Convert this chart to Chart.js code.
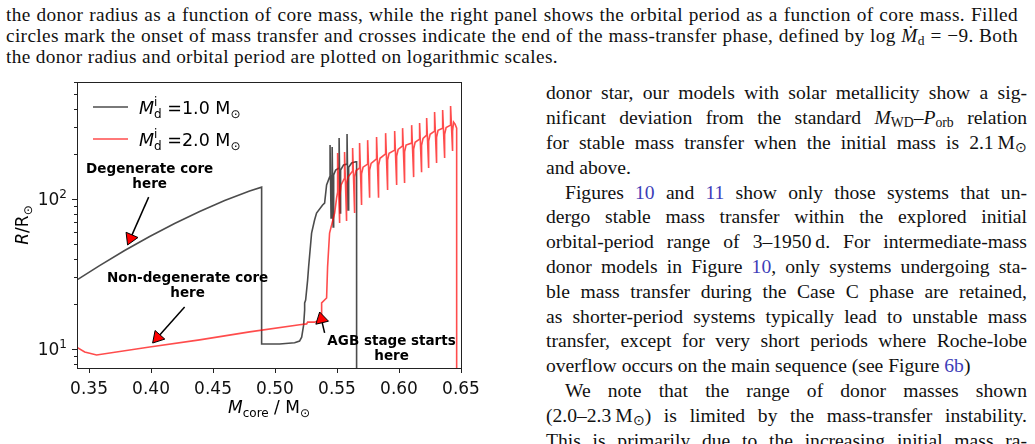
<!DOCTYPE html>
<html>
<head>
<meta charset="utf-8">
<script src="https://cdn.jsdelivr.net/npm/chart.js@4.4.1/dist/chart.umd.min.js"></script>
<style>
html, body { margin: 0; padding: 0; background: #fff; }
body { width: 1035px; height: 444px; overflow: hidden; position: relative; font-family: "Liberation Serif", serif; color: #111; }
.ln { position: absolute; white-space: nowrap; text-align: justify; text-align-last: justify; }
.ln.last { text-align: left; text-align-last: left; }
.cap { font-size: 19.3px; line-height: 19px; letter-spacing: 0.35px; }
.txt { font-size: 19.6px; line-height: 20px; letter-spacing: 0; }
sub { font-size: 70%; vertical-align: -0.25em; line-height: 0; }
.lk { color: #3d3db8; }
#wrap { position: absolute; left: 0; top: 70px; width: 500px; height: 374px; }
</style>
</head>
<body>
<div id="text"></div>
<div id="wrap"><canvas id="chart"></canvas></div>
<script>
// axis ticks
var xTicks = [0.35, 0.40, 0.45, 0.50, 0.55, 0.60, 0.65];
var yTicks = [8, 9, 10, 20, 30, 40, 50, 60, 70, 80, 90, 100, 200, 300, 400, 500, 600];
var yTickLabels = { 10: ['10', '1'], 100: ['10', '2'] };

// M_d^i = 1.0 Msun track (core mass, radius)
var coreMass1 = [0.3400, 0.3585, 0.3787, 0.3989, 0.4190, 0.4392, 0.4594, 0.4795, 0.4892, 0.4892,
  0.5037, 0.5158, 0.5198, 0.5215, 0.5231, 0.5239, 0.5239, 0.5247, 0.5263, 0.5271,
  0.5295, 0.5319, 0.5335, 0.5384, 0.5400, 0.5416, 0.5440,
  0.5444, 0.5444, 0.5452, 0.5456,
  0.5461, 0.5461, 0.5469, 0.5473,
  0.5489,
  0.5517, 0.5517, 0.5525, 0.5529, 0.5553,
  0.5581, 0.5581, 0.5589, 0.5594, 0.5618, 0.5650, 0.5658, 0.5658];
var radius1 = [28.8, 36.0, 45.4, 56.2, 68.7, 82.5, 97.7, 113, 120, 10.8,
  10.8, 11.0, 11.3, 12.0, 14.5, 18.2, 20.3, 21.2, 28.8, 35.2,
  59.3, 72.4, 80.7, 91.2, 94.0, 124, 140,
  142, 229, 74.7, 140,
  145, 222, 65.1, 145,
  156,
  161, 255, 80.7, 156, 169,
  171, 271, 84.5, 163, 174, 177, 177, 3];

// M_d^i = 2.0 Msun track
var coreMass2 = [0.3400, 0.3465, 0.3561, 0.3989, 0.4392, 0.4795, 0.5198, 0.5255, 0.5263, 0.5319,
  0.5360, 0.5376, 0.5376, 0.5416, 0.5424, 0.5440, 0.5481, 0.5497,
  0.5505, 0.5505, 0.5521, 0.5521, 0.5533,
  0.5561, 0.5561, 0.5577, 0.5577, 0.5589,
  0.5626, 0.5626, 0.5642, 0.5642, 0.5654,
  0.5682, 0.5682, 0.5698, 0.5698, 0.5710,
  0.5747, 0.5747, 0.5763, 0.5763, 0.5775,
  0.5819, 0.5819, 0.5835, 0.5835, 0.5847,
  0.5892, 0.5892, 0.5908, 0.5908, 0.5920,
  0.5965, 0.5965, 0.5981, 0.5981, 0.5993,
  0.6029, 0.6029, 0.6045, 0.6045, 0.6057,
  0.6102, 0.6102, 0.6118, 0.6118, 0.6130,
  0.6166, 0.6166, 0.6182, 0.6182, 0.6194,
  0.6223, 0.6223, 0.6239, 0.6239, 0.6251,
  0.6287, 0.6287, 0.6303, 0.6303, 0.6315,
  0.6352, 0.6352, 0.6368, 0.6368, 0.6380,
  0.6416, 0.6416, 0.6432, 0.6432,
  0.6440, 0.6452, 0.6465, 0.6465];
var radius2 = [10.3, 9.55, 9.12, 10.3, 11.5, 13.0, 14.5, 14.7, 15.1, 15.1,
  15.6, 16.1, 20.3, 21.9, 35.2, 59.3, 80.7, 102,
  111, 203, 69.2, 101, 124,
  138, 206, 71.3, 126, 140,
  154, 219, 80.7, 140, 155,
  161, 236, 91.2, 147, 163,
  171, 247, 102, 156, 173,
  185, 259, 102, 168, 187,
  200, 275, 115, 182, 202,
  212, 284, 124, 193, 214,
  226, 297, 128, 206, 229,
  236, 311, 140, 215, 239,
  251, 321, 151, 228, 254,
  267, 347, 161, 243, 270,
  284, 380, 174, 258, 287,
  297, 392, 188, 270, 300,
  311, 417, 209, 283,
  326, 316, 297, 3];

function pts(xs, ys) {
  return xs.map(function (x, i) { return { x: x, y: ys[i] }; });
}

// page text
var capLines = [
  { b: 21, h: 'the donor radius as a function of core mass, while the right panel shows the orbital period as a function of core mass. Filled' },
  { b: 42, h: 'circles mark the onset of mass transfer and crosses indicate the end of the mass-transfer phase, defined by log <i>\u1e40</i><sub>d</sub> = \u22129. Both' },
  { b: 63, h: 'the donor radius and orbital period are plotted on logarithmic scales.', last: true }
];
var bodyLines = [
  { h: 'donor star, our models with solar metallicity show a sig-' },
  { h: 'nificant deviation from the standard <i>M</i><sub>WD</sub>\u2013<i>P</i><sub>orb</sub> relation' },
  { h: 'for stable mass transfer when the initial mass is 2.1&thinsp;M<sub>\u2299</sub>' },
  { h: 'and above.', last: true },
  { h: 'Figures <span class="lk">10</span> and <span class="lk">11</span> show only those systems that un-', ind: true },
  { h: 'dergo stable mass transfer within the explored initial' },
  { h: 'orbital-period range of 3\u20131950&thinsp;d. For intermediate-mass' },
  { h: 'donor models in Figure <span class="lk">10</span>, only systems undergoing sta-' },
  { h: 'ble mass transfer during the Case C phase are retained,' },
  { h: 'as shorter-period systems typically lead to unstable mass' },
  { h: 'transfer, except for very short periods where Roche-lobe' },
  { h: 'overflow occurs on the main sequence (see Figure <span class="lk">6b</span>)', last: true },
  { h: 'We note that the range of donor masses shown', ind: true },
  { h: '(2.0\u20132.3&thinsp;M<sub>\u2299</sub>) is limited by the mass-transfer instability.' },
  { h: 'This is primarily due to the increasing initial mass ra-' }
];

var textBox = document.getElementById('text');
function addLine(html, cls, left, width, baseline, fs, lh, last) {
  var d = document.createElement('div');
  d.className = 'ln ' + cls + (last ? ' last' : '');
  d.style.left = left + 'px';
  d.style.width = width + 'px';
  d.style.top = (baseline - (lh - 1.107 * fs) / 2 - 0.891 * fs) + 'px';
  d.innerHTML = html;
  textBox.appendChild(d);
}
capLines.forEach(function (l) { addLine(l.h, 'cap', 6, 1012, l.b, 19.3, 19, l.last); });
bodyLines.forEach(function (l, i) {
  var ind = l.ind ? 19 : 0;
  addLine(l.h, 'txt', 546 + ind, 481 - ind, 100 + i * 24.8, 19.6, 20, l.last);
});

// mixed-style text on the canvas
function runs(ctx, parts, x, y, align) {
  var w = 0;
  parts.forEach(function (p) {
    ctx.font = p.f;
    p.w = ctx.measureText(p.t).width;
    if (p.adv !== false) w += p.w;
  });
  var cx = x;
  if (align === 'center') cx = x - w / 2;
  if (align === 'right') cx = x - w;
  parts.forEach(function (p) {
    ctx.font = p.f;
    ctx.fillText(p.t, cx, y + (p.dy || 0));
    if (p.adv !== false) cx += p.w;
  });
}

function arrow(ctx, x0, y0, x1, y1) {
  var a = Math.atan2(y1 - y0, x1 - x0), hl = 11, hw = 6.5;
  var bx = x1 - hl * Math.cos(a), by = y1 - hl * Math.sin(a);
  ctx.strokeStyle = '#000';
  ctx.lineWidth = 1.5;
  ctx.beginPath(); ctx.moveTo(x0, y0); ctx.lineTo(bx, by); ctx.stroke();
  ctx.beginPath();
  ctx.moveTo(x1, y1);
  ctx.lineTo(bx + hw * Math.sin(a), by - hw * Math.cos(a));
  ctx.lineTo(bx - hw * Math.sin(a), by + hw * Math.cos(a));
  ctx.closePath();
  ctx.fillStyle = '#ff0000';
  ctx.fill();
  ctx.lineWidth = 1;
  ctx.stroke();
}

var sans = 'DejaVu Sans';
var annotations = [
  { lines: ['Degenerate core', 'here'], tx: 0.3989, ty: 158, from: [0.3981, 103], to: [0.3811, 49.4] },
  { lines: ['Non-degenerate core', 'here'], tx: 0.4295, ty: 29.3, from: [0.4271, 19.05], to: [0.4013, 10.96] },
  { lines: ['AGB stage starts', 'here'], tx: 0.5940, ty: 11.3, from: [0.5400, 12.8], to: [0.5360, 17.65] }
];

var deco = {
  id: 'deco',
  afterDraw: function (chart) {
    var ctx = chart.ctx, a = chart.chartArea, xs = chart.scales.x, ys = chart.scales.y;
    ctx.save();
    ctx.strokeStyle = '#222';
    ctx.lineWidth = 1;
    ctx.beginPath();
    xTicks.forEach(function (v) {
      var px = Math.round(xs.getPixelForValue(v)) + 0.5;
      ctx.moveTo(px, a.bottom); ctx.lineTo(px, a.bottom + 5);
    });
    yTicks.forEach(function (v) {
      var py = Math.round(ys.getPixelForValue(v)) + 0.5;
      var len = yTickLabels[v] ? 5 : 3;
      ctx.moveTo(a.left, py); ctx.lineTo(a.left - len, py);
    });
    ctx.stroke();
    ctx.strokeRect(Math.round(a.left) + 0.5, Math.round(a.top) + 0.5, Math.round(a.right - a.left), Math.round(a.bottom - a.top));

    ctx.fillStyle = '#111';
    ctx.textBaseline = 'alphabetic';
    ctx.textAlign = 'left';

    // y tick labels with exponents
    Object.keys(yTickLabels).forEach(function (k) {
      var lab = yTickLabels[k], py = ys.getPixelForValue(Number(k));
      runs(ctx, [
        { t: lab[0], f: '17px ' + sans },
        { t: lab[1], f: '12px ' + sans, dy: -7 }
      ], a.left - 10, py + 6, 'right');
    });

    // legend
    var leg = [['1.0', 'rgba(0,0,0,0.7)', 107], ['2.0', 'rgba(255,0,0,0.7)', 139]];
    leg.forEach(function (e) {
      ctx.strokeStyle = e[1];
      ctx.lineWidth = 1.6;
      ctx.beginPath(); ctx.moveTo(93, e[2] - 70); ctx.lineTo(128, e[2] - 70); ctx.stroke();
      ctx.fillStyle = '#000';
      runs(ctx, [
        { t: 'M', f: 'italic 17.5px ' + sans },
        { t: 'i', f: '12px ' + sans, dy: -8, adv: false },
        { t: 'd', f: '12px ' + sans, dy: 4 },
        { t: ' =' + e[0] + ' M', f: '17.5px ' + sans },
        { t: '\u2299', f: '12px ' + sans, dy: 4 }
      ], 139, e[2] - 70 + 7, 'left');
    });

    // axis titles
    runs(ctx, [
      { t: 'M', f: 'italic 17px ' + sans },
      { t: 'core', f: '12px ' + sans, dy: 4 },
      { t: ' / M', f: '17px ' + sans },
      { t: '\u2299', f: '12px ' + sans, dy: 4 }
    ], (a.left + a.right) / 2, 413 - 70, 'center');
    ctx.save();
    ctx.translate(28, (a.top + a.bottom) / 2);
    ctx.rotate(-Math.PI / 2);
    runs(ctx, [
      { t: 'R', f: 'italic 17px ' + sans },
      { t: '/R', f: '17px ' + sans },
      { t: '\u2299', f: '12px ' + sans, dy: 4 }
    ], 0, 0, 'center');
    ctx.restore();

    // annotations
    annotations.forEach(function (n) {
      var tx = xs.getPixelForValue(n.tx), ty = ys.getPixelForValue(n.ty);
      ctx.fillStyle = '#000';
      ctx.font = 'bold 13.5px ' + sans;
      ctx.textAlign = 'center';
      ctx.textBaseline = 'middle';
      n.lines.forEach(function (s, i) { ctx.fillText(s, tx, ty + i * 15); });
      arrow(ctx, xs.getPixelForValue(n.from[0]), ys.getPixelForValue(n.from[1]),
        xs.getPixelForValue(n.to[0]), ys.getPixelForValue(n.to[1]));
    });
    ctx.restore();
  }
};

var chart = new Chart(document.getElementById('chart'), {
  type: 'scatter',
  data: {
    datasets: [{
      label: 'M_d^i = 2.0',
      data: pts(coreMass2, radius2),
      showLine: true,
      borderColor: 'rgba(255,0,0,0.7)',
      borderWidth: 1.6,
      pointRadius: 0,
      tension: 0,
      order: 1
    }, {
      label: 'M_d^i = 1.0',
      data: pts(coreMass1, radius1),
      showLine: true,
      borderColor: 'rgba(0,0,0,0.7)',
      borderWidth: 1.6,
      pointRadius: 0,
      tension: 0,
      order: 2
    }]
  },
  options: {
    responsive: true,
    maintainAspectRatio: false,
    animation: false,
    events: [],
    layout: { padding: { top: 12, right: 39, left: 0, bottom: 0 } },
    plugins: { legend: { display: false }, tooltip: { enabled: false } },
    scales: {
      x: {
        type: 'linear',
        min: 0.3403,
        max: 0.65,
        afterBuildTicks: function (s) { s.ticks = xTicks.map(function (v) { return { value: v }; }); },
        afterFit: function (s) { s.height = 76; },
        grid: { display: false },
        border: { display: false },
        ticks: {
          font: { family: sans, size: 17 },
          color: '#111',
          padding: 3,
          maxRotation: 0,
          autoSkip: false,
          callback: function (v) { return v.toFixed(2); }
        }
      },
      y: {
        type: 'logarithmic',
        min: 7.47,
        max: 603,
        afterBuildTicks: function (s) { s.ticks = yTicks.map(function (v) { return { value: v }; }); },
        afterFit: function (s) { s.width = 77; },
        grid: { display: false },
        border: { display: false },
        ticks: { display: false }
      }
    }
  },
  plugins: [deco]
});
</script>
</body>
</html>
